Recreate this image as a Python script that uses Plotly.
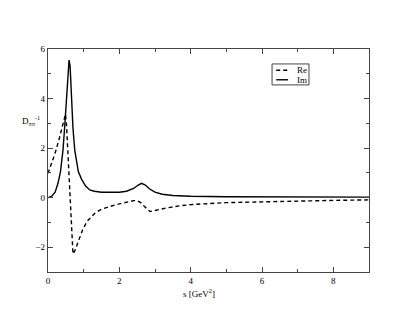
import plotly.graph_objects as go

s_im = [0, 0.1, 0.2, 0.28, 0.35, 0.42, 0.47, 0.52, 0.56, 0.59, 0.62, 0.66, 0.7, 0.75, 0.8, 0.85, 0.94, 1.05,
        1.17, 1.3, 1.5, 1.8, 2.0, 2.2, 2.4, 2.52, 2.62, 2.72, 2.85, 3.0, 3.2, 3.5, 4, 5, 6, 7, 8, 9]
im_vals = [0.0, 0.05, 0.22, 0.58, 1.05, 1.92, 2.9, 3.94, 4.9, 5.55, 5.3, 3.94, 2.8, 1.92, 1.45, 1.05, 0.75,
           0.48, 0.31, 0.26, 0.22, 0.21, 0.22, 0.26, 0.37, 0.5, 0.58, 0.52, 0.35, 0.22, 0.14, 0.09, 0.06, 0.04,
           0.03, 0.02, 0.02, 0.02]

s_re = [0, 0.1, 0.2, 0.3, 0.4, 0.46, 0.49, 0.52, 0.6, 0.7, 0.75, 0.8, 0.9, 0.97, 1.1, 1.2, 1.3, 1.45, 1.7,
        2.0, 2.2, 2.4, 2.5, 2.6, 2.7, 2.86, 3.0, 3.3, 3.7, 4, 5, 6, 7, 8, 9]
re_vals = [0.98, 1.38, 1.8, 2.3, 2.85, 3.25, 3.37, 2.9, 0.6, -2.27, -2.15, -1.95, -1.55, -1.3, -0.95, -0.78,
           -0.65, -0.5, -0.37, -0.25, -0.18, -0.12, -0.12, -0.2, -0.35, -0.56, -0.52, -0.42, -0.33, -0.28,
           -0.2, -0.16, -0.13, -0.11, -0.09]

x_ticks = [0, 2, 4, 6, 8]
y_ticks = [-2, 0, 2, 4, 6]

font = "Liberation Serif, Times New Roman, serif"
frame = "#444"
dash_style = "4px,3px"

fig = go.Figure()
fig.add_trace(go.Scatter(x=s_re, y=re_vals, mode="lines", name="Re", showlegend=False,
                         line=dict(color="black", width=1.4, dash=dash_style)))
fig.add_trace(go.Scatter(x=s_im, y=im_vals, mode="lines", name="Im", showlegend=False,
                         line=dict(color="black", width=1.4)))

axis_common = dict(showgrid=False, zeroline=False, showline=True, linecolor=frame, linewidth=1.2,
                   mirror="ticks", ticks="inside", ticklen=5, tickcolor=frame, tickwidth=1,
                   tickfont=dict(family=font, size=9, color="black"),
                   minor=dict(dtick=1, ticks="inside", ticklen=3, tickcolor=frame))

fig.update_xaxes(range=[0, 9], tickvals=x_ticks, **axis_common)
fig.update_yaxes(range=[-3, 6], tickvals=y_ticks, **axis_common)

# legend box drawn manually (small, like the reference)
shapes = [
    dict(type="rect", xref="paper", yref="paper", x0=0.698, x1=0.813, y0=0.839, y1=0.933,
         line=dict(color=frame, width=1), fillcolor="white"),
    dict(type="line", xref="paper", yref="paper", x0=0.711, x1=0.748, y0=0.905, y1=0.905,
         line=dict(color="black", width=1.4, dash=dash_style)),
    dict(type="line", xref="paper", yref="paper", x0=0.711, x1=0.748, y0=0.862, y1=0.862,
         line=dict(color="black", width=1.4)),
]

fig.update_layout(
    width=415, height=321,
    margin=dict(l=40, r=54, t=41, b=57),
    plot_bgcolor="white", paper_bgcolor="white",
    font=dict(family=font, size=9, color="black"),
    showlegend=False,
    shapes=shapes,
    annotations=[
        dict(text="Re", x=0.770, y=0.905, xref="paper", yref="paper", xanchor="left", yanchor="middle",
             showarrow=False, font=dict(family=font, size=9)),
        dict(text="Im", x=0.770, y=0.862, xref="paper", yref="paper", xanchor="left", yanchor="middle",
             showarrow=False, font=dict(family=font, size=9)),
        dict(text="D<sub>ππ</sub><sup>-1</sup>", x=-0.02, y=0.68, xref="paper", yref="paper",
             xanchor="right", yanchor="middle", showarrow=False, font=dict(family=font, size=9)),
        dict(text="s [GeV<sup>2</sup>]", x=0.47, y=-0.06, xref="paper", yref="paper",
             xanchor="center", yanchor="top", showarrow=False, font=dict(family=font, size=9)),
    ],
)

fig.write_html("out.html")
